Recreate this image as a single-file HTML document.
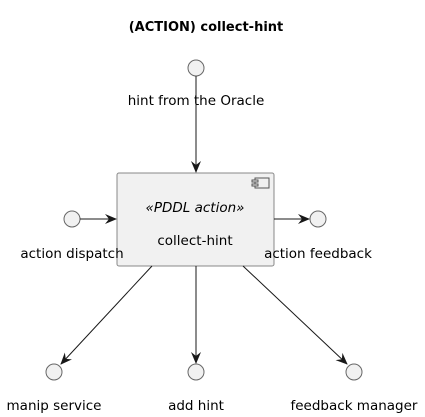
<!DOCTYPE html>
<html><head><style>
html,body{margin:0;padding:0;background:#fff;}
svg{display:block;}
text{font-family:"DejaVu Sans","Liberation Sans",sans-serif;font-size:13.5px;fill:#000;}
</style></head><body>
<svg width="425" height="417" viewBox="0 0 425 417" xmlns="http://www.w3.org/2000/svg">
<defs>
<marker id="a" viewBox="0 0 12 10" refX="11" refY="5" markerWidth="12" markerHeight="10" markerUnits="userSpaceOnUse" orient="auto">
<path d="M0,0 L12,5 L0,10 L4,5 Z" fill="#181818"/>
</marker>
</defs>
<text x="206" y="31" text-anchor="middle" style="font-weight:bold;font-size:13px">(ACTION) collect-hint</text>

<rect x="117" y="173" width="157" height="93" rx="2" fill="#f1f1f1" stroke="#888" stroke-width="1"/>
<rect x="255" y="178" width="14" height="10" fill="#f1f1f1" stroke="#555" stroke-width="1"/>
<rect x="252" y="180" width="6" height="2" fill="#f1f1f1" stroke="#555" stroke-width="1"/>
<rect x="252" y="184" width="6" height="2" fill="#f1f1f1" stroke="#555" stroke-width="1"/>
<text x="195" y="212" text-anchor="middle" style="font-style:italic">«PDDL action»</text>
<text x="195" y="245" text-anchor="middle">collect-hint</text>

<g fill="#f1f1f1" stroke="#666" stroke-width="1">
<circle cx="196" cy="68" r="8"/>
<circle cx="72" cy="219" r="8"/>
<circle cx="318" cy="219" r="8"/>
<circle cx="54" cy="372" r="8"/>
<circle cx="196" cy="372" r="8"/>
<circle cx="354" cy="372" r="8"/>
</g>

<g stroke="#181818" stroke-width="1" fill="none">
<line x1="196" y1="76" x2="196" y2="172" marker-end="url(#a)"/>
<line x1="80" y1="219" x2="116" y2="219" marker-end="url(#a)"/>
<line x1="274" y1="219" x2="309" y2="219" marker-end="url(#a)"/>
<line x1="152" y1="266" x2="61" y2="364" marker-end="url(#a)"/>
<line x1="196" y1="266" x2="196" y2="363" marker-end="url(#a)"/>
<line x1="243" y1="266" x2="347" y2="364" marker-end="url(#a)"/>
</g>

<text x="196" y="105" text-anchor="middle">hint from the Oracle</text>
<text x="72" y="258" text-anchor="middle">action dispatch</text>
<text x="318" y="258" text-anchor="middle">action feedback</text>
<text x="54" y="410" text-anchor="middle">manip service</text>
<text x="196" y="410" text-anchor="middle">add hint</text>
<text x="354" y="410" text-anchor="middle">feedback manager</text>
</svg>
</body></html>
